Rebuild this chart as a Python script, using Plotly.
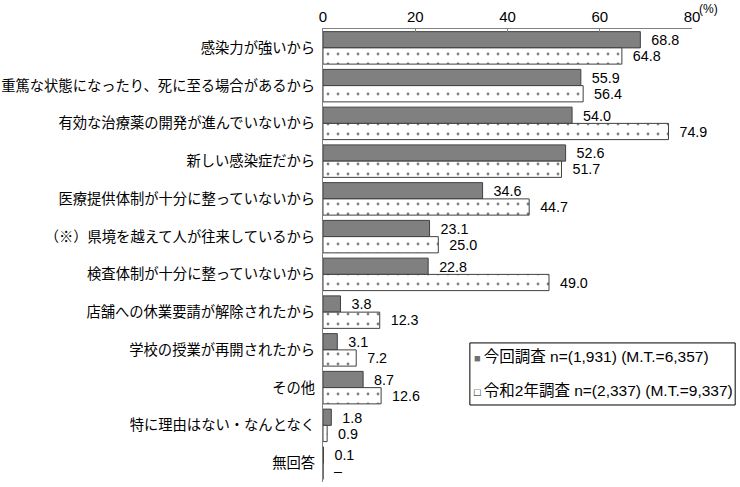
import plotly.graph_objects as go

categories = [
    "感染力が強いから",
    "重篤な状態になったり、死に至る場合があるから",
    "有効な治療薬の開発が進んでいないから",
    "新しい感染症だから",
    "医療提供体制が十分に整っていないから",
    "（※）県境を越えて人が往来しているから",
    "検査体制が十分に整っていないから",
    "店舗への休業要請が解除されたから",
    "学校の授業が再開されたから",
    "その他",
    "特に理由はない・なんとなく",
    "無回答",
]
current = [68.8, 55.9, 54.0, 52.6, 34.6, 23.1, 22.8, 3.8, 3.1, 8.7, 1.8, 0.1]
previous = [64.8, 56.4, 74.9, 51.7, 44.7, 25.0, 49.0, 12.3, 7.2, 12.6, 0.9, 0.0]
previous_labels = [f"{v:.1f}" for v in previous[:-1]] + ["–"]
current_labels = [f"{v:.1f}" for v in current]
series_names = [
    "今回調査 n=(1,931) (M.T.=6,357)",
    "令和2年調査 n=(2,337) (M.T.=9,337)",
]
x_ticks = [0, 20, 40, 60, 80]

LAT = "Liberation Sans, Noto Sans CJK JP"
pad = "\u00a0\u00a0"
fig = go.Figure()
fig.add_trace(go.Bar(
    y=categories, x=current, orientation="h", name=series_names[0],
    marker=dict(color="#808080", line=dict(color="#404040", width=1)),
    text=[pad + t for t in current_labels], textposition="outside",
    textfont=dict(family="Liberation Sans", size=15, color="black"),
    cliponaxis=False, showlegend=False,
))
fig.add_trace(go.Bar(
    y=categories, x=previous, orientation="h", name=series_names[1],
    marker=dict(color="white", line=dict(color="#404040", width=1),
                pattern=dict(shape=".", fgcolor="black", bgcolor="white", size=10, solidity=0.06)),
    text=[pad + t for t in previous_labels], textposition="outside",
    textfont=dict(family="Liberation Sans", size=15, color="black"),
    cliponaxis=False, showlegend=False,
))

fig.update_layout(
    width=740, height=487,
    margin=dict(l=323, r=48, t=29, b=5),
    paper_bgcolor="white", plot_bgcolor="white",
    barmode="group", bargap=0.14, bargroupgap=0.0,
    font=dict(family="Noto Sans CJK JP", size=13, color="black"),
    xaxis=dict(
        side="top", range=[0, 80], tickvals=x_ticks,
        showline=True, linecolor="#808080", linewidth=1,
        ticks="inside", ticklen=5, tickcolor="#808080",
        showgrid=False, zeroline=False, automargin=False,
        tickfont=dict(family="Liberation Sans", size=15, color="black"),
    ),
    yaxis=dict(
        autorange="reversed", showline=True, linecolor="#808080", linewidth=1,
        showgrid=False, ticks="", ticklabelstandoff=4, automargin=False,
        tickfont=dict(family="Noto Sans CJK JP", size=14.3, color="black"),
    ),
    shapes=[dict(
        type="rect", xref="paper", yref="paper",
        x0=0.398, x1=1.117, y0=0.170, y1=0.307,
        line=dict(color="black", width=1), fillcolor="white", layer="above",
    )],
    annotations=[
        dict(text="(%)", x=1.0, y=1.0, xref="paper", yref="paper",
             xanchor="left", yanchor="bottom", xshift=5, yshift=11, showarrow=False,
             font=dict(family="Liberation Sans", size=12, color="black")),
        dict(text="<span style='color:#707070;font-size:11px'>■</span>\u2009" + series_names[0],
             x=0.405, y=0.276, xref="paper", yref="paper", xanchor="left", yanchor="middle",
             showarrow=False, font=dict(family=LAT, size=15.5, color="black")),
        dict(text="<span style='font-size:11px'>□</span>\u2009" + series_names[1],
             x=0.405, y=0.203, xref="paper", yref="paper", xanchor="left", yanchor="middle",
             showarrow=False, font=dict(family=LAT, size=15.5, color="black")),
    ],
)
fig.write_html("out.html")
